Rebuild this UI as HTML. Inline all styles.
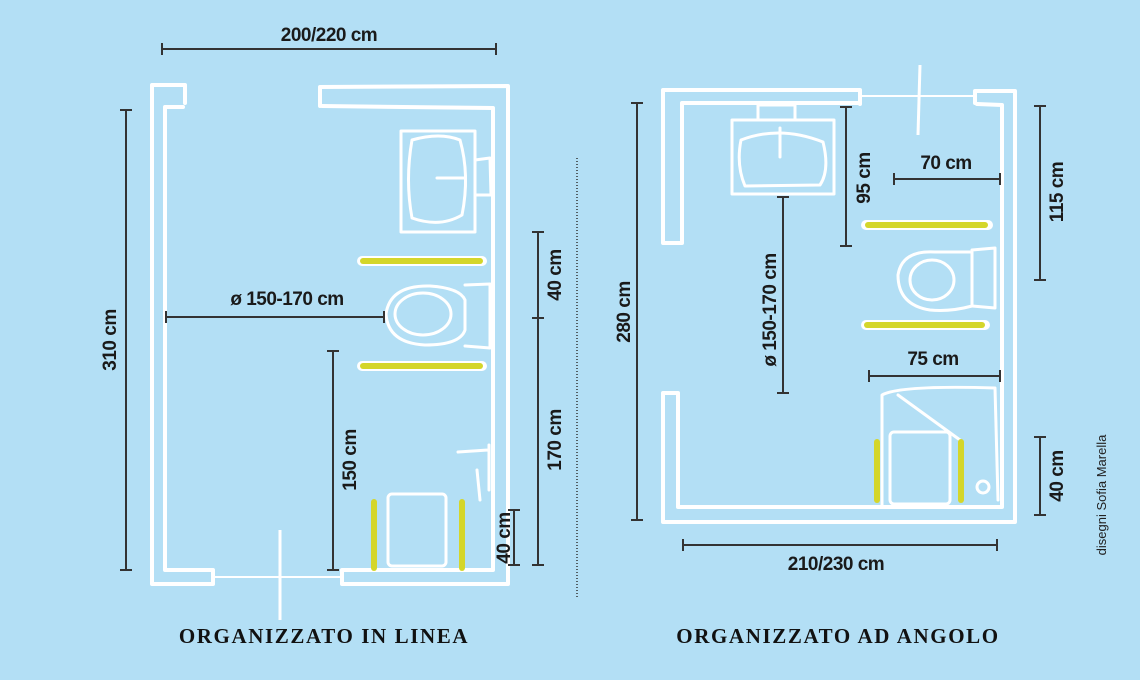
<!DOCTYPE html>
<html><head><meta charset="utf-8"><style>
html,body{margin:0;padding:0;background:#b3dff5;}
svg{display:block}
.w{fill:none;stroke:#fff;stroke-width:4;stroke-linejoin:round;stroke-linecap:round}
.t{fill:none;stroke:#fff;stroke-width:3;stroke-linecap:round;stroke-linejoin:round}
.d{fill:none;stroke:#333;stroke-width:2}
.y{stroke:#d4d62a;stroke-width:6;stroke-linecap:round}
.yo{stroke:#fff;stroke-width:10;stroke-linecap:round}
.lb{font-family:"Liberation Sans",sans-serif;font-size:19px;fill:#1a1a1a;font-weight:bold;letter-spacing:-0.5px}
.tt{font-family:"Liberation Serif",serif;font-size:21px;font-weight:bold;fill:#111;letter-spacing:1.6px}
</style></head><body>
<svg width="1140" height="680" viewBox="0 0 1140 680" xmlns="http://www.w3.org/2000/svg">
<rect width="1140" height="680" fill="#b3dff5"/>
<!-- LEFT ROOM -->
<path class="w" d="M185,103 L185,85 L152,85 L152,584 L213,584 L213,570 L165,570 L165,107 L183,107"/>
<path class="w" d="M320,106 L320,87 L508,86 L508,584 L342,584 L342,570 L493,570 L493,108 L322,106"/>
<line x1="213" y1="577" x2="342" y2="577" stroke="#fff" stroke-width="2"/>
<line x1="280" y1="530" x2="280" y2="620" stroke="#fff" stroke-width="3"/>
<!-- sink left -->
<rect class="t" x="401" y="131" width="74" height="101"/>
<path class="t" d="M412,140 Q440,132 460,140 Q470,175 462,215 Q440,228 412,218 Q405,180 412,140Z"/>
<line class="t" x1="437" y1="178" x2="465" y2="178"/>
<path class="t" d="M475,160 L490,158 L491,195 L475,195"/>
<!-- grab bars left -->
<line class="yo" x1="362" y1="261" x2="482" y2="261"/><line class="y" x1="363" y1="261" x2="480" y2="261"/>
<line class="yo" x1="362" y1="366" x2="482" y2="366"/><line class="y" x1="363" y1="366" x2="480" y2="366"/>
<!-- toilet left -->
<path class="t" d="M386,314 Q390,285 430,286 Q460,288 465,300 L465,330 Q460,345 425,345 Q388,343 386,314Z"/>
<ellipse class="t" cx="423" cy="314" rx="28" ry="21"/>
<path class="t" d="M465,285 L490,284 L490,348 L465,346"/>
<!-- shower left -->
<rect class="t" x="388" y="494" width="58" height="72" rx="4"/>
<line class="y" x1="374" y1="502" x2="374" y2="568"/>
<line class="y" x1="462" y1="502" x2="462" y2="568"/>
<path class="t" d="M458,452 L488,450 M489,445 L489,490 M477,470 L480,500"/>
<!-- left dims -->
<g class="d">
<line x1="162" y1="49" x2="496" y2="49"/><line x1="162" y1="43" x2="162" y2="55"/><line x1="496" y1="43" x2="496" y2="55"/>
<line x1="126" y1="110" x2="126" y2="570"/><line x1="120" y1="110" x2="132" y2="110"/><line x1="120" y1="570" x2="132" y2="570"/>
<line x1="166" y1="317" x2="384" y2="317"/><line x1="166" y1="311" x2="166" y2="323"/><line x1="384" y1="311" x2="384" y2="323"/>
<line x1="333" y1="351" x2="333" y2="570"/><line x1="327" y1="351" x2="339" y2="351"/><line x1="327" y1="570" x2="339" y2="570"/>
<line x1="538" y1="232" x2="538" y2="565"/><line x1="532" y1="232" x2="544" y2="232"/><line x1="532" y1="318" x2="544" y2="318"/><line x1="532" y1="565" x2="544" y2="565"/>
<line x1="514" y1="510" x2="514" y2="565"/><line x1="508" y1="510" x2="520" y2="510"/><line x1="508" y1="565" x2="520" y2="565"/>
</g>
<text class="lb" x="329" y="41" text-anchor="middle">200/220 cm</text>
<text class="lb" x="287" y="305" text-anchor="middle">ø 150-170 cm</text>
<text class="lb" transform="translate(116,340) rotate(-90)" text-anchor="middle">310 cm</text>
<text class="lb" transform="translate(356,460) rotate(-90)" text-anchor="middle">150 cm</text>
<text class="lb" transform="translate(561,275) rotate(-90)" text-anchor="middle">40 cm</text>
<text class="lb" transform="translate(561,440) rotate(-90)" text-anchor="middle">170 cm</text>
<text class="lb" transform="translate(510,538) rotate(-90)" text-anchor="middle">40 cm</text>
<line x1="577" y1="158" x2="577" y2="598" stroke="#333" stroke-width="1.5" stroke-dasharray="1,2"/>
<!-- RIGHT ROOM -->
<path class="w" d="M860,104 L860,90 L663,90 L663,243 L682,243 L682,103 L858,103"/>
<path class="w" d="M975,103 L975,91 L1015,91 L1015,522 L663,522 L663,393 L678,393 L678,507 L1002,507 L1002,105 L977,104"/>
<line x1="860" y1="96" x2="975" y2="96" stroke="#fff" stroke-width="2"/>
<line x1="920" y1="65" x2="918" y2="135" stroke="#fff" stroke-width="3"/>
<!-- sink right -->
<rect class="t" x="732" y="120" width="102" height="74"/>
<path class="t" d="M741,140 Q780,125 823,142 Q830,170 820,185 L745,186 Q736,165 741,140Z"/>
<line class="t" x1="780" y1="128" x2="780" y2="157"/>
<path class="t" d="M758,120 L758,105 L795,105 L795,120"/>
<!-- grab bars right -->
<line class="yo" x1="866" y1="225" x2="988" y2="225"/><line class="y" x1="868" y1="225" x2="985" y2="225"/>
<line class="yo" x1="866" y1="325" x2="985" y2="325"/><line class="y" x1="867" y1="325" x2="982" y2="325"/>
<!-- toilet right -->
<path class="t" d="M898,275 Q902,250 935,252 L972,252 L972,306 Q950,312 930,310 Q898,305 898,275Z"/>
<ellipse class="t" cx="932" cy="280" rx="22" ry="20"/>
<path class="t" d="M972,250 L995,248 L995,308 L972,306"/>
<!-- shower right -->
<path class="t" d="M882,505 L882,395 Q900,385 995,388 L998,500"/>
<rect class="t" x="890" y="432" width="60" height="72" rx="4"/>
<path class="t" d="M898,395 L960,440"/>
<line class="y" x1="877" y1="442" x2="877" y2="500"/>
<line class="y" x1="961" y1="442" x2="961" y2="500"/>
<circle class="t" cx="983" cy="487" r="6"/>
<!-- right dims -->
<g class="d">
<line x1="637" y1="103" x2="637" y2="520"/><line x1="631" y1="103" x2="643" y2="103"/><line x1="631" y1="520" x2="643" y2="520"/>
<line x1="846" y1="107" x2="846" y2="246"/><line x1="840" y1="107" x2="852" y2="107"/><line x1="840" y1="246" x2="852" y2="246"/>
<line x1="783" y1="197" x2="783" y2="393"/><line x1="777" y1="197" x2="789" y2="197"/><line x1="777" y1="393" x2="789" y2="393"/>
<line x1="894" y1="179" x2="1000" y2="179"/><line x1="894" y1="173" x2="894" y2="185"/><line x1="1000" y1="173" x2="1000" y2="185"/>
<line x1="869" y1="376" x2="1000" y2="376"/><line x1="869" y1="370" x2="869" y2="382"/><line x1="1000" y1="370" x2="1000" y2="382"/>
<line x1="1040" y1="106" x2="1040" y2="280"/><line x1="1034" y1="106" x2="1046" y2="106"/><line x1="1034" y1="280" x2="1046" y2="280"/>
<line x1="1040" y1="437" x2="1040" y2="515"/><line x1="1034" y1="437" x2="1046" y2="437"/><line x1="1034" y1="515" x2="1046" y2="515"/>
<line x1="683" y1="545" x2="997" y2="545"/><line x1="683" y1="539" x2="683" y2="551"/><line x1="997" y1="539" x2="997" y2="551"/>
</g>
<text class="lb" x="946" y="169" text-anchor="middle">70 cm</text>
<text class="lb" x="933" y="365" text-anchor="middle">75 cm</text>
<text class="lb" x="836" y="570" text-anchor="middle">210/230 cm</text>
<text class="lb" transform="translate(630,312) rotate(-90)" text-anchor="middle">280 cm</text>
<text class="lb" transform="translate(870,178) rotate(-90)" text-anchor="middle">95 cm</text>
<text class="lb" transform="translate(776,310) rotate(-90)" text-anchor="middle">ø 150-170 cm</text>
<text class="lb" transform="translate(1063,192) rotate(-90)" text-anchor="middle">115 cm</text>
<text class="lb" transform="translate(1063,476) rotate(-90)" text-anchor="middle">40 cm</text>
<text transform="translate(1106,495) rotate(-90)" text-anchor="middle" font-family="Liberation Sans,sans-serif" font-size="13" fill="#222">disegni Sofia Marella</text>
<text class="tt" x="324" y="643" text-anchor="middle">ORGANIZZATO IN LINEA</text>
<text class="tt" x="838" y="643" text-anchor="middle">ORGANIZZATO AD ANGOLO</text>
</svg>
</body></html>
